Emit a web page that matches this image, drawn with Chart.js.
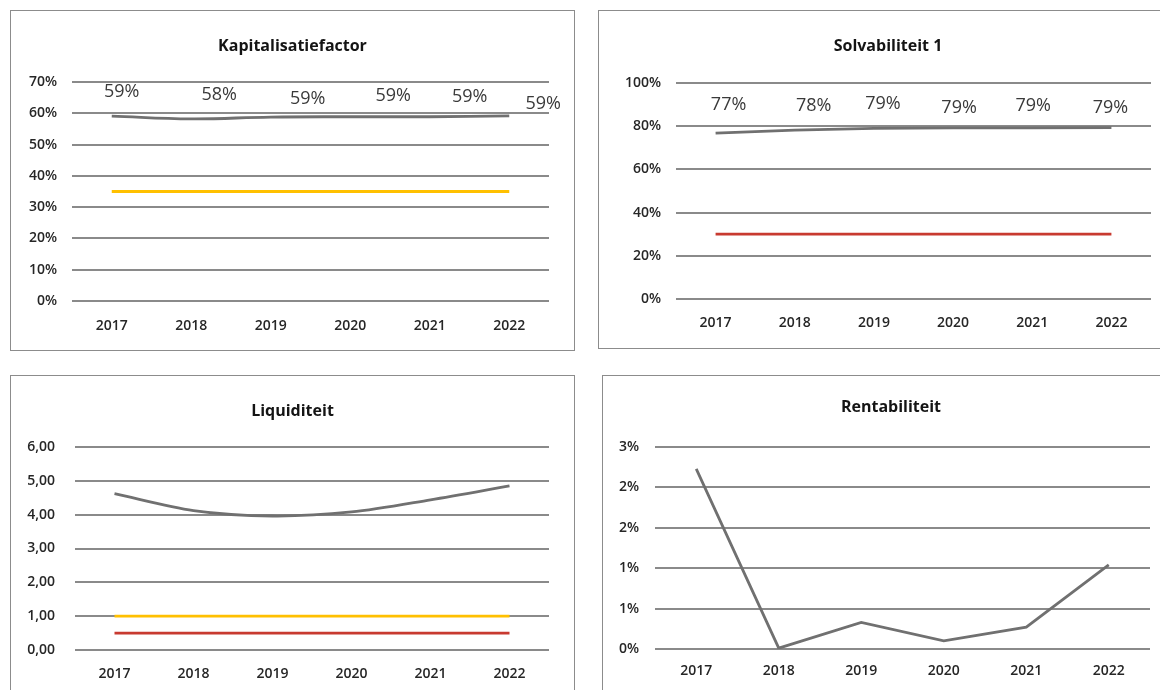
<!DOCTYPE html>
<html>
<head>
<meta charset="utf-8">
<script src="https://cdn.jsdelivr.net/npm/chart.js@4/dist/chart.umd.min.js"></script>
<style>
  body { margin: 0; background: #fff; width: 1160px; height: 690px; overflow: hidden; position: relative; font-family: "Open Sans", sans-serif; }
  .box { position: absolute; border: 1px solid #8c8c8c; background: #fff; }
  .box canvas { display: block; }
  .title { position: absolute; left: 0; right: 0; text-align: center; font-weight: bold; font-size: 16px; color: #141414; line-height: 20px; }
</style>
</head>
<body>

<div class="box" style="left:10px; top:10px; width:563px; height:339px;">
  <div class="title" style="top:24px;">Kapitalisatiefactor</div>
  <canvas id="c1" width="563" height="339"></canvas>
</div>
<div class="box" style="left:598px; top:10px; width:578px; height:337px;">
  <div class="title" style="top:24px;">Solvabiliteit 1</div>
  <canvas id="c2" width="578" height="337"></canvas>
</div>
<div class="box" style="left:10px; top:375px; width:563px; height:338px;">
  <div class="title" style="top:24px;">Liquiditeit</div>
  <canvas id="c3" width="563" height="338"></canvas>
</div>
<div class="box" style="left:602px; top:375px; width:576px; height:338px;">
  <div class="title" style="top:20px;">Rentabiliteit</div>
  <canvas id="c4" width="576" height="338"></canvas>
</div>

<script>
  // Data
  const jaren = ["2017", "2018", "2019", "2020", "2021", "2022"];

  const kapitalisatie = [59.1, 58.2, 58.8, 58.9, 58.9, 59.2];   // %
  const kapitalisatieNorm = [35, 35, 35, 35, 35, 35];

  const solvabiliteit = [76.8, 78.2, 79.0, 79.2, 79.2, 79.3];   // %
  const solvabiliteitNorm = [30, 30, 30, 30, 30, 30];

  const liquiditeit = [4.62, 4.12, 3.96, 4.08, 4.44, 4.85];
  const liquiditeitNormGeel = [1, 1, 1, 1, 1, 1];
  const liquiditeitNormRood = [0.5, 0.5, 0.5, 0.5, 0.5, 0.5];

  const rentabiliteit = [2.23, 0.01, 0.33, 0.10, 0.27, 1.04];   // %

  const GRIJS = "#707070";
  const GEEL = "#ffc000";
  const ROOD = "#c83a30";
  const tickFont = { family: "'Open Sans', sans-serif", size: 14, weight: "600" };

  // waardelabels boven de grijze lijn (handmatig verschoven zoals in Excel)
  const valueLabels = {
    id: "valueLabels",
    afterDatasetsDraw(chart, args, opts) {
      if (!opts.offsets) return;
      const meta = chart.getDatasetMeta(0);
      const ctx = chart.ctx;
      ctx.save();
      ctx.font = "18px 'Open Sans', sans-serif";
      ctx.fillStyle = "#3a3a3a";
      ctx.textAlign = "center";
      ctx.textBaseline = "middle";
      meta.data.forEach((pt, i) => {
        const v = chart.data.datasets[0].data[i];
        const o = opts.offsets[i];
        ctx.fillText(Math.round(v) + "%", pt.x + o[0], pt.y + o[1]);
      });
      ctx.restore();
    }
  };

  function lijn(data, kleur, tension) {
    return {
      data: data,
      borderColor: kleur,
      backgroundColor: kleur,
      borderWidth: 2.8,
      pointRadius: 0,
      tension: tension || 0,
      fill: false
    };
  }

  function maakGrafiek(id, datasets, cfg) {
    new Chart(document.getElementById(id), {
      type: "line",
      data: { labels: jaren, datasets: datasets },
      plugins: [valueLabels],
      options: {
        responsive: false,
        animation: false,
        events: [],
        layout: { padding: { top: cfg.top, right: cfg.right, left: 0, bottom: 0 } },
        plugins: {
          legend: { display: false },
          title: { display: false },
          tooltip: { enabled: false },
          valueLabels: { offsets: cfg.offsets }
        },
        scales: {
          x: {
            offset: true,
            grid: { display: false, drawTicks: false },
            border: { display: false },
            ticks: { color: "#262626", font: tickFont, padding: cfg.xPad, maxRotation: 0 },
            afterFit: (s) => { s.height = cfg.xHeight; }
          },
          y: {
            min: cfg.min,
            max: cfg.max,
            grid: { color: "#8a8a8a", lineWidth: 2, drawTicks: false },
            border: { display: false },
            ticks: { stepSize: cfg.step, color: "#262626", font: tickFont, padding: cfg.yPad, callback: cfg.fmt },
            afterFit: (s) => { s.width = cfg.yWidth; }
          }
        }
      }
    });
  }

  const pct = (v) => Math.round(v) + "%";

  maakGrafiek("c1", [lijn(kapitalisatie, GRIJS, 0.4), lijn(kapitalisatieNorm, GEEL)], {
    top: 71, right: 25, yWidth: 61, xHeight: 49, yPad: 15, xPad: 17,
    min: 0, max: 70, step: 10, fmt: pct,
    offsets: [[10, -24], [28, -24], [37, -18], [43, -21], [40, -20], [34, -12]]
  });

  maakGrafiek("c2", [lijn(solvabiliteit, GRIJS), lijn(solvabiliteitNorm, ROOD)], {
    top: 72, right: 26, yWidth: 77, xHeight: 49, yPad: 15, xPad: 16,
    min: 0, max: 100, step: 20, fmt: pct,
    offsets: [[13, -28], [19, -24], [9, -24], [6, -20], [1, -22], [-1, -20]]
  });

  maakGrafiek("c3", [lijn(liquiditeit, GRIJS, 0.3), lijn(liquiditeitNormGeel, GEEL), lijn(liquiditeitNormRood, ROOD)], {
    top: 71, right: 25, yWidth: 64, xHeight: 64, yPad: 20, xPad: 16,
    min: 0, max: 6, step: 1, fmt: (v) => v.toFixed(2).replace(".", ",")
  });

  maakGrafiek("c4", [lijn(rentabiliteit, GRIJS)], {
    top: 71, right: 29, yWidth: 52, xHeight: 65, yPad: 16, xPad: 14,
    min: 0, max: 2.5, step: 0.5, fmt: pct
  });
</script>
</body>
</html>
